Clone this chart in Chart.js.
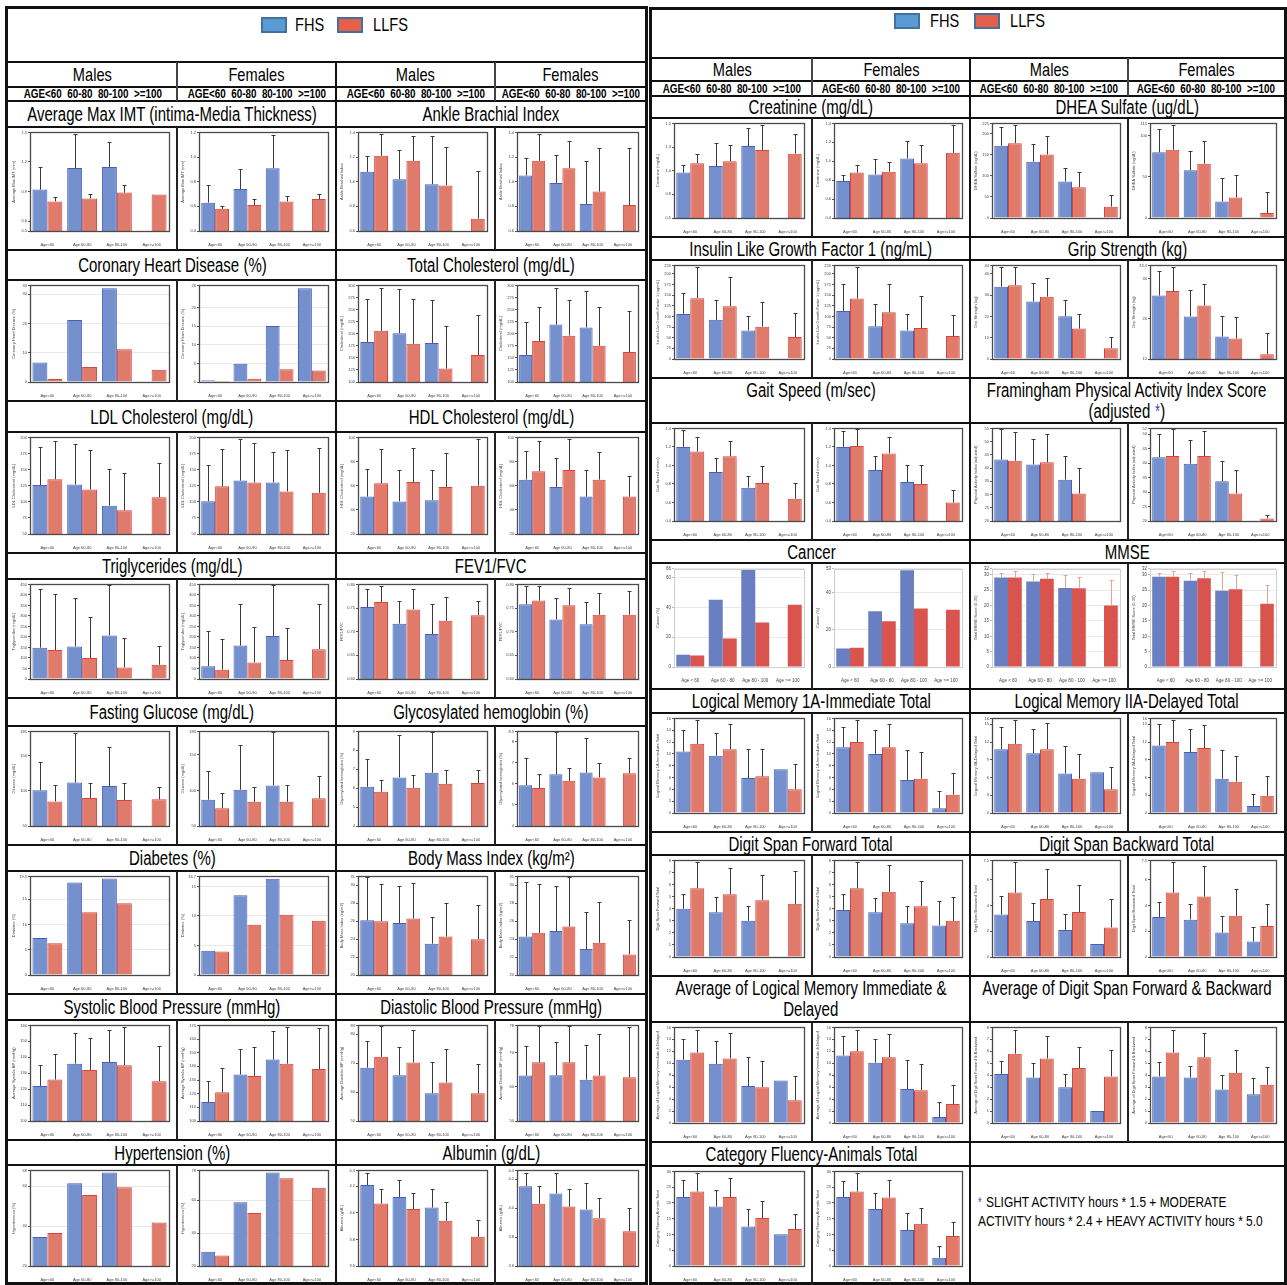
<!DOCTYPE html>
<html>
<head>
<meta charset="utf-8">
<script src="https://cdn.jsdelivr.net/npm/chart.js@4.4.1/dist/chart.umd.min.js"></script>
<style>
  html, body { margin: 0; padding: 0; background: #fff; }
  body { width: 1287px; height: 1285px; position: relative; overflow: hidden;
         font-family: "Liberation Sans", Arial, sans-serif; color: #000; }
  .t { position: absolute; white-space: nowrap; display: flex; justify-content: center; align-items: center; }
  .t span { display: inline-block; flex: none; transform: scaleX(0.77); transform-origin: center; }
  .t.left { justify-content: flex-start; }
  .t.left span { transform-origin: left center; }
  .star { color: #2f48c0; }
  canvas { position: absolute; }
</style>
</head>
<body>
<script>
// ---------- category labels ----------
const ageLabels = ['Age<60', 'Age 60-80', 'Age 80-100', 'Age>=100'];
const ageLabelsSpaced = ['Age < 60', 'Age 60 - 80', 'Age 80 - 100', 'Age >= 100'];
const headerSexes = ['Males', 'Females', 'Males', 'Females'];
const headerAges = 'AGE<60  60-80  80-100  >=100';
const seriesNames = ['FHS', 'LLFS'];

// ---------- values: mean per age group, and mean + SD (upper whisker) ----------
// Average Max IMT
const imtMFhs = [0.92, 1.14, 1.15, null], imtMFhsHi = [1.15, 1.48, 1.40, null];
const imtMLlfs = [0.80, 0.83, 0.89, 0.87], imtMLlfsHi = [0.84, 0.88, 0.97, null];
const imtFFhs = [0.63, 0.74, 0.91, null], imtFFhsHi = [0.77, 0.90, 1.18, null];
const imtFLlfs = [0.58, 0.61, 0.64, 0.66], imtFLlfsHi = [0.60, 0.66, 0.68, 0.70];
// Ankle Brachial Index
const abiMFhs = [1.08, 1.02, 0.98, null], abiMFhsHi = [1.21, 1.26, 1.37, null];
const abiMLlfs = [1.21, 1.17, 0.97, 0.70], abiMLlfsHi = [1.39, 1.37, 1.28, 1.09];
const abiFFhs = [1.05, 0.99, 0.82, null], abiFFhsHi = [1.19, 1.22, 1.17, null];
const abiFLlfs = [1.17, 1.11, 0.92, 0.81], abiFLlfsHi = [1.39, 1.33, 1.27, 1.27];
// Coronary Heart Disease (%)
const chdMFhs = [6.7, 21.2, 32.0, null], chdMLlfs = [1.0, 5.1, 11.2, 4.2];
const chdFFhs = [0.5, 4.9, 15.1, 25.2], chdFLlfs = [0.3, 0.9, 3.4, 3.1];
// Total Cholesterol
const tcMFhs = [183, 201, 181, null], tcMFhsHi = [271, 292, 269, null];
const tcMLlfs = [206, 179, 128, 156], tcMLlfsHi = [295, 272, 216, 239];
const tcFFhs = [156, 219, 213, null], tcFFhsHi = [224, 295, 289, null];
const tcFLlfs = [185, 196, 175, 162], tcFLlfsHi = [256, 269, 256, 247];
// LDL Cholesterol
const ldlMFhs = [126, 127, 94, null], ldlMFhsHi = [185, 189, 151, null];
const ldlMLlfs = [135, 119, 87, 107], ldlMLlfsHi = [195, 181, 145, 161];
const ldlFFhs = [101, 133, 130, null], ldlFFhsHi = [157, 198, 178, null];
const ldlFLlfs = [124, 130, 116, 114], ldlFLlfsHi = [182, 191, 181, 184];
// HDL Cholesterol
const hdlMFhs = [51, 47, 48, null], hdlMFhsHi = [74, 73, 73, null];
const hdlMLlfs = [62, 63, 59, 60], hdlMLlfsHi = [90, 91, 87, 99];
const hdlFFhs = [65, 59, 51, null], hdlFFhsHi = [89, 83, 73, null];
const hdlFLlfs = [72, 73, 65, 51], hdlFLlfsHi = [97, 99, 88, 68];
// Triglycerides
const tgMFhs = [149, 155, 207, null], tgMFhsHi = [428, 385, 446, null];
const tgMLlfs = [138, 100, 55, 68], tgMLlfsHi = [404, 295, 196, 155];
const tgFFhs = [61, 159, 205, null], tgFFhsHi = [230, 356, 446, null];
const tgFLlfs = [44, 79, 90, 142], tgFLlfsHi = [189, 248, 243, 356];
// FEV1/FVC
const fevMFhs = [0.752, 0.717, 0.695, null], fevMFhsHi = [0.791, 0.765, 0.758, null];
const fevMLlfs = [0.763, 0.747, 0.723, 0.735], fevMLlfsHi = [0.797, 0.790, 0.773, 0.765];
const fevFFhs = [0.758, 0.726, 0.716, null], fevFFhsHi = [0.797, 0.772, 0.763, null];
const fevFLlfs = [0.766, 0.756, 0.736, 0.736], fevFLlfsHi = [0.797, 0.792, 0.782, 0.785];
// Fasting Glucose
const gluMFhs = [101, 112, 107, null], gluMFhsHi = [141, 183, 163, null];
const gluMLlfs = [85, 90, 87, 88], gluMLlfsHi = [109, 112, 112, 106];
const gluFFhs = [87, 101, 107, null], gluFFhsHi = [128, 164, 182, null];
const gluFLlfs = [75, 84, 84, 89], gluFLlfsHi = [97, 105, 108, 120];
// Glycosylated hemoglobin
const hbaMFhs = [6.07, 6.57, 6.82, null], hbaMFhsHi = [7.53, 8.82, 8.95, null];
const hbaMLlfs = [5.81, 6.02, 6.23, 6.27], hbaMLlfsHi = [6.44, 6.69, 6.97, 6.97];
const hbaFFhs = [5.94, 6.46, 6.54, null], hbaFFhsHi = [7.22, 8.46, 8.19, null];
const hbaFLlfs = [5.81, 6.15, 6.31, 6.51], hbaFLlfsHi = [6.49, 6.75, 7.01, 7.22];
// Diabetes (%)
const diabMFhs = [7.3, 18.3, 19.1, null], diabMLlfs = [6.3, 12.4, 14.2, null];
const diabFFhs = [4.1, 13.5, 16.3, null], diabFLlfs = [4.0, 8.5, 10.2, 9.2];
// Body Mass Index
const bmiMFhs = [26.1, 25.8, 23.5, null], bmiMFhsHi = [30.9, 29.9, 26.5, null];
const bmiMLlfs = [26.0, 26.3, 24.3, 24.0], bmiMLlfsHi = [30.2, 30.3, 28.0, 27.8];
const bmiFFhs = [24.3, 24.9, 22.9, null], bmiFFhsHi = [30.4, 29.9, 27.0, null];
const bmiFLlfs = [24.7, 25.4, 23.6, 22.3], bmiFLlfsHi = [30.2, 30.9, 28.1, 26.1];
// Systolic Blood Pressure
const sbpMFhs = [122, 136, 137, null], sbpMFhsHi = [135, 155, 157, null];
const sbpMLlfs = [126, 132, 135, 125], sbpMLlfsHi = [142, 152, 159, 147];
const sbpFFhs = [114, 134, 145, null], sbpFFhsHi = [129, 153, 166, null];
const sbpFLlfs = [121, 133, 142, 138], sbpFLlfsHi = [139, 154, 169, 168];
// Diastolic Blood Pressure
const dbpMFhs = [68.4, 65.8, 59.6, null], dbpMFhsHi = [77.5, 75.5, 70.2, null];
const dbpMLlfs = [72.2, 70.2, 63.3, 59.6], dbpMLlfsHi = [82.7, 81.3, 75.0, 69.6];
const dbpFFhs = [63.3, 63.4, 62.1, null], dbpFFhsHi = [72.1, 73.0, 72.4, null];
const dbpFLlfs = [67.2, 67.2, 63.3, 62.8], dbpFLlfsHi = [77.7, 77.7, 75.4, 77.5];
// Hypertension (%)
const htnMFhs = [34.6, 61.5, 66.9, null], htnMLlfs = [36.6, 55.7, 59.6, 41.8];
const htnFFhs = [28.7, 58.7, 76.7, null], htnFLlfs = [26.4, 52.1, 73.2, 67.4];
// Albumin
const albMFhs = [4.21, 4.12, 4.04, null], albMFhsHi = [4.30, 4.25, 4.18, null];
const albMLlfs = [4.07, 4.03, 3.94, 3.82], albMLlfsHi = [4.18, 4.15, 4.08, 3.95];
const albFFhs = [4.15, 4.10, 3.99, null], albFFhsHi = [4.24, 4.24, 4.17, null];
const albFLlfs = [4.03, 4.01, 3.93, 3.84], albFLlfsHi = [4.15, 4.13, 4.07, 4.00];
// Creatinine
const creMFhs = [0.98, 1.05, 1.26, null], creMFhsHi = [1.06, 1.29, 1.45, null];
const creMLlfs = [1.08, 1.10, 1.22, 1.18], creMLlfsHi = [1.18, 1.27, 1.48, 1.39];
const creFFhs = [0.79, 0.86, 1.03, null], creFFhsHi = [0.85, 1.02, 1.21, null];
const creFLlfs = [0.88, 0.89, 0.98, 1.09], creFLlfsHi = [0.96, 0.99, 1.17, 1.38];
// DHEA Sulfate
const dheaMFhs = [172, 134, 87, null], dheaMFhsHi = [217, 176, 120, null];
const dheaMLlfs = [178, 151, 73, 27], dheaMLlfsHi = [221, 196, 109, 54];
const dheaFFhs = [80, 58, 20, null], dheaFFhsHi = [108, 82, 49, null];
const dheaFLlfs = [83, 66, 25, 6], dheaFLlfsHi = [113, 94, 52, 31];
// Insulin Like Growth Factor 1
const igfMFhs = [106, 92, 67, null], igfMFhsHi = [156, 139, 100, null];
const igfMLlfs = [143, 124, 76, 52], igfMLlfsHi = [216, 193, 133, 109];
const igfFFhs = [113, 77, 67, null], igfFFhsHi = [176, 130, 105, null];
const igfFLlfs = [142, 110, 73, 54], igfFLlfsHi = [216, 176, 147, 103];
// Grip Strength
const gripMFhs = [34.0, 27.0, 20.1, null], gripMFhsHi = [43.2, 35.8, 27.5, null];
const gripMLlfs = [34.7, 29.3, 14.3, 5.1], gripMLlfsHi = [43.2, 38.1, 21.2, 10.5];
const gripFFhs = [25.8, 20.6, 15.6, null], gripFFhsHi = [31.9, 27.3, 20.8, null];
const gripFLlfs = [26.9, 23.3, 15.1, 11.2], gripFLlfsHi = [32.9, 28.6, 20.5, 16.4];
// Gait Speed
const gaitMFhs = [1.20, 0.93, 0.76, null], gaitMFhsHi = [1.38, 1.08, 0.89, null];
const gaitMLlfs = [1.15, 1.10, 0.81, 0.64], gaitMLlfsHi = [1.31, 1.26, 0.99, 0.81];
const gaitFFhs = [1.20, 0.95, 0.82, null], gaitFFhsHi = [1.37, 1.10, 1.01, null];
const gaitFLlfs = [1.21, 1.13, 0.80, 0.60], gaitFLlfsHi = [1.39, 1.31, 1.00, 0.74];
// Framingham Physical Activity Index
const paiMFhs = [43.2, 41.4, 35.6, null], paiMFhsHi = [54.8, 50.9, 44.7, null];
const paiMLlfs = [42.8, 42.2, 30.4, null], paiMLlfsHi = [53.7, 53.0, 40.1, null];
const paiFFhs = [42.0, 39.8, 33.7, null], paiFFhsHi = [50.1, 47.9, 40.6, null];
const paiFLlfs = [42.5, 42.5, 29.5, 20.9], paiFLlfsHi = [51.8, 51.2, 37.5, 22.2];
// Cancer (%)
const cancerMFhs = [8.2, 45.2, 65.2, null], cancerMLlfs = [7.7, 19.1, 29.8, 41.8];
const cancerFFhs = [10.0, 30.0, 52.2, null], cancerFLlfs = [10.4, 24.7, 31.6, 30.9];
// MMSE
const mmseMFhs = [29.1, 27.8, 25.7, null], mmseMFhsHi = [30.6, 30.3, 30.0, null];
const mmseMLlfs = [29.1, 28.7, 25.6, 20.0], mmseMLlfsHi = [31.4, 30.7, 29.4, 28.3];
const mmseFFhs = [29.4, 28.1, 24.8, null], mmseFFhsHi = [30.6, 30.6, 30.9, null];
const mmseFLlfs = [29.4, 28.9, 25.3, 20.6], mmseFLlfsHi = [31.4, 31.2, 29.8, 26.7];
// Logical Memory 1A - Immediate
const lm1MFhs = [10.4, 9.7, 5.9, 7.4], lm1MFhsHi = [14.0, 13.6, 10.9, null];
const lm1MLlfs = [11.7, 10.8, 6.2, 4.0], lm1MLlfsHi = [15.8, 15.0, 10.8, 8.3];
const lm1FFhs = [11.1, 10.0, 5.6, 0.8], lm1FFhsHi = [14.6, 14.0, 10.7, 3.7];
const lm1FLlfs = [12.0, 11.1, 5.8, 3.1], lm1FLlfsHi = [15.8, 15.1, 10.4, 6.7];
// Logical Memory IIA - Delayed
const lm2MFhs = [10.8, 10.1, 6.7, 6.9], lm2MFhsHi = [14.5, 14.2, 11.4, null];
const lm2MLlfs = [11.7, 10.8, 5.8, 4.0], lm2MLlfsHi = [15.7, 15.3, 10.0, 7.7];
const lm2FFhs = [11.4, 10.3, 5.8, 1.2], lm2FFhsHi = [15.0, 14.2, 10.7, 3.2];
const lm2FLlfs = [12.0, 11.0, 5.3, 2.9], lm2FLlfsHi = [15.8, 14.8, 9.7, 6.2];
// Digit Span Forward
const dsfMFhs = [4.0, 3.7, 3.0, null], dsfMFhsHi = [5.2, 5.0, 4.2, null];
const dsfMLlfs = [5.7, 5.2, 4.7, 4.4], dsfMLlfsHi = [7.9, 7.4, 6.8, 7.1];
const dsfFFhs = [3.9, 3.7, 2.8, 2.6], dsfFFhsHi = [5.2, 4.9, 4.2, 4.6];
const dsfFLlfs = [5.7, 5.4, 4.2, 3.0], dsfFLlfsHi = [7.9, 7.6, 6.3, 5.0];
// Digit Span Backward
const dsbMFhs = [3.3, 2.8, 2.1, 1.0], dsbMFhsHi = [4.7, 4.2, 3.3, null];
const dsbMLlfs = [5.0, 4.5, 3.5, 2.3], dsbMLlfsHi = [7.4, 6.8, 5.6, 4.5];
const dsbFFhs = [3.1, 2.9, 1.9, 1.2], dsbFFhsHi = [4.3, 4.1, 3.2, 2.3];
const dsbFLlfs = [5.0, 4.7, 3.2, 2.4], dsbFLlfsHi = [7.4, 7.1, 5.3, 4.1];
// Average of Logical Memory Immediate & Delayed
const avgLmMFhs = [10.6, 9.9, 6.2, 7.1], avgLmMFhsHi = [14.0, 13.8, 11.0, null];
const avgLmMLlfs = [11.8, 10.8, 6.0, 3.8], avgLmMLlfsHi = [15.6, 15.1, 10.3, 7.8];
const avgLmFFhs = [11.3, 10.1, 5.7, 1.0], avgLmFFhsHi = [14.6, 14.1, 10.6, 3.5];
const avgLmFLlfs = [12.0, 11.0, 5.5, 3.2], avgLmFLlfsHi = [15.6, 14.9, 9.8, 6.4];
// Average of Digit Span Forward & Backward
const avgDsMFhs = [4.1, 3.8, 3.0, 1.0], avgDsMFhsHi = [5.2, 5.0, 4.1, null];
const avgDsMLlfs = [5.8, 5.4, 4.6, 3.9], avgDsMLlfsHi = [7.8, 7.3, 6.4, 6.1];
const avgDsFFhs = [3.9, 3.8, 2.8, 2.4], avgDsFFhsHi = [5.1, 4.8, 4.0, 3.8];
const avgDsFLlfs = [5.9, 5.5, 4.2, 3.2], avgDsFLlfsHi = [7.8, 7.5, 6.1, 4.7];
// Category Fluency - Animals
const cfMFhs = [21.9, 18.9, 12.5, 10.1], cfMFhsHi = [27.3, 24.2, 18.1, null];
const cfMLlfs = [23.6, 21.9, 15.2, 11.7], cfMLlfsHi = [29.5, 27.8, 20.7, 16.4];
const cfFFhs = [21.9, 18.1, 11.4, 2.6], cfFFhsHi = [26.9, 23.3, 16.9, 6.2];
const cfFLlfs = [23.6, 21.7, 13.4, 9.5], cfFLlfsHi = [29.5, 27.2, 18.4, 14.0];

// ---------- page grid (two panels) ----------
const PANELS = [
  { x0: 5, x1: 648, top: 6, cols: [8, 177, 336, 495, 646], legendBottom: 62, hdrBottom: 87, ageBottom: 101,
    legend: { y: 17, fhsBox: 261, fhsText: 295, llfsBox: 337, llfsText: 373 },
    blocks: [[101, 127, 250], [250, 280, 401], [401, 432, 553], [553, 579, 698],
             [698, 726, 845], [845, 871, 994], [994, 1020, 1140], [1140, 1165, 1285]] },
  { x0: 649, x1: 1287, top: 7, cols: [652, 812, 970, 1128, 1284], legendBottom: 58, hdrBottom: 81, ageBottom: 96,
    legend: { y: 13, fhsBox: 894, fhsText: 930, llfsBox: 974, llfsText: 1010 },
    blocks: [[96, 118, 237], [237, 260, 378], [378, 423, 540], [540, 563, 689],
             [689, 713, 832], [832, 855, 976], [976, 1022, 1142], [1142, 1166, 1285]] }
];

const TITLES = [
  [['Average Max IMT (intima-Media Thickness)'], ['Ankle Brachial Index']],
  [['Coronary Heart Disease (%)'], ['Total Cholesterol (mg/dL)']],
  [['LDL Cholesterol (mg/dL)'], ['HDL Cholesterol (mg/dL)']],
  [['Triglycerides (mg/dL)'], ['FEV1/FVC']],
  [['Fasting Glucose (mg/dL)'], ['Glycosylated hemoglobin (%)']],
  [['Diabetes (%)'], ['Body Mass Index (kg/m²)']],
  [['Systolic Blood Pressure (mmHg)'], ['Diastolic Blood Pressure (mmHg)']],
  [['Hypertension (%)'], ['Albumin (g/dL)']],
  [['Creatinine (mg/dL)'], ['DHEA Sulfate (ug/dL)']],
  [['Insulin Like Growth Factor 1 (ng/mL)'], ['Grip Strength (kg)']],
  [['Gait Speed (m/sec)'], ['Framingham Physical Activity Index Score', '(adjusted <span class="star">*</span>)']],
  [['Cancer'], ['MMSE']],
  [['Logical Memory 1A-Immediate Total'], ['Logical Memory IIA-Delayed Total']],
  [['Digit Span Forward Total'], ['Digit Span Backward Total']],
  [['Average of Logical Memory Immediate &amp;', 'Delayed'], ['Average of Digit Span Forward &amp; Backward']],
  [['Category Fluency-Animals Total'], []]
];

// Chart list: panel, block, column, y-axis title, series, axis range, look
const CHARTS = [
  { p: 0, b: 0, c: 0, yt: 'Average Max IMT (mm)', d: [imtMFhs, imtMFhsHi, imtMLlfs, imtMLlfsHi], min: 0.5, max: 1.5, step: 0.3 },
  { p: 0, b: 0, c: 1, yt: 'Average Max IMT (mm)', d: [imtFFhs, imtFFhsHi, imtFLlfs, imtFLlfsHi], min: 0.4, max: 1.2, step: 0.2 },
  { p: 0, b: 0, c: 2, yt: 'Ankle Brachial Index', d: [abiMFhs, abiMFhsHi, abiMLlfs, abiMLlfsHi], min: 0.6, max: 1.4, step: 0.2 },
  { p: 0, b: 0, c: 3, yt: 'Ankle Brachial Index', d: [abiFFhs, abiFFhsHi, abiFLlfs, abiFLlfsHi], min: 0.6, max: 1.4, step: 0.2 },
  { p: 0, b: 1, c: 0, yt: 'Coronary Heart Disease (%)', d: [chdMFhs, null, chdMLlfs, null], min: 0, max: 33, step: 10, look: 'grid' },
  { p: 0, b: 1, c: 1, yt: 'Coronary Heart Disease (%)', d: [chdFFhs, null, chdFLlfs, null], min: 0, max: 26, step: 5, look: 'grid' },
  { p: 0, b: 1, c: 2, yt: 'Cholesterol (mg/dL)', d: [tcMFhs, tcMFhsHi, tcMLlfs, tcMLlfsHi], min: 100, max: 300, step: 25 },
  { p: 0, b: 1, c: 3, yt: 'Cholesterol (mg/dL)', d: [tcFFhs, tcFFhsHi, tcFLlfs, tcFLlfsHi], min: 100, max: 300, step: 25 },
  { p: 0, b: 2, c: 0, yt: 'LDL Cholesterol (mg/dL)', d: [ldlMFhs, ldlMFhsHi, ldlMLlfs, ldlMLlfsHi], min: 50, max: 200, step: 25 },
  { p: 0, b: 2, c: 1, yt: 'LDL Cholesterol (mg/dL)', d: [ldlFFhs, ldlFFhsHi, ldlFLlfs, ldlFLlfsHi], min: 50, max: 200, step: 25 },
  { p: 0, b: 2, c: 2, yt: 'HDL Cholesterol (mg/dL)', d: [hdlMFhs, hdlMFhsHi, hdlMLlfs, hdlMLlfsHi], min: 20, max: 100, step: 20 },
  { p: 0, b: 2, c: 3, yt: 'HDL Cholesterol (mg/dL)', d: [hdlFFhs, hdlFFhsHi, hdlFLlfs, hdlFLlfsHi], min: 20, max: 100, step: 20 },
  { p: 0, b: 3, c: 0, yt: 'Triglycerides (mg/dL)', d: [tgMFhs, tgMFhsHi, tgMLlfs, tgMLlfsHi], min: 0, max: 450, step: 50 },
  { p: 0, b: 3, c: 1, yt: 'Triglycerides (mg/dL)', d: [tgFFhs, tgFFhsHi, tgFLlfs, tgFLlfsHi], min: 0, max: 450, step: 50 },
  { p: 0, b: 3, c: 2, yt: 'FEV1/FVC', d: [fevMFhs, fevMFhsHi, fevMLlfs, fevMLlfsHi], min: 0.6, max: 0.8, step: 0.05 },
  { p: 0, b: 3, c: 3, yt: 'FEV1/FVC', d: [fevFFhs, fevFFhsHi, fevFLlfs, fevFLlfsHi], min: 0.6, max: 0.8, step: 0.05 },
  { p: 0, b: 4, c: 0, yt: 'Glucose (mg/dL)', d: [gluMFhs, gluMFhsHi, gluMLlfs, gluMLlfsHi], min: 50, max: 185, step: 50 },
  { p: 0, b: 4, c: 1, yt: 'Glucose (mg/dL)', d: [gluFFhs, gluFFhsHi, gluFLlfs, gluFLlfsHi], min: 50, max: 183, step: 50 },
  { p: 0, b: 4, c: 2, yt: 'Glycosylated hemoglobin (%)', d: [hbaMFhs, hbaMFhsHi, hbaMLlfs, hbaMLlfsHi], min: 4, max: 9, step: 1 },
  { p: 0, b: 4, c: 3, yt: 'Glycosylated hemoglobin (%)', d: [hbaFFhs, hbaFFhsHi, hbaFLlfs, hbaFLlfsHi], min: 4, max: 8.5, step: 1 },
  { p: 0, b: 5, c: 0, yt: 'Diabetes (%)', d: [diabMFhs, null, diabMLlfs, null], min: 0, max: 19.5, step: 5, look: 'grid' },
  { p: 0, b: 5, c: 1, yt: 'Diabetes (%)', d: [diabFFhs, null, diabFLlfs, null], min: 0, max: 16.7, step: 5, look: 'grid' },
  { p: 0, b: 5, c: 2, yt: 'Body Mass Index (kg/m2)', d: [bmiMFhs, bmiMFhsHi, bmiMLlfs, bmiMLlfsHi], min: 20, max: 31, step: 2 },
  { p: 0, b: 5, c: 3, yt: 'Body Mass Index (kg/m2)', d: [bmiFFhs, bmiFFhsHi, bmiFLlfs, bmiFLlfsHi], min: 20, max: 31, step: 2 },
  { p: 0, b: 6, c: 0, yt: 'Average Systolic BP (mmHg)', d: [sbpMFhs, sbpMFhsHi, sbpMLlfs, sbpMLlfsHi], min: 100, max: 160, step: 10 },
  { p: 0, b: 6, c: 1, yt: 'Average Systolic BP (mmHg)', d: [sbpFFhs, sbpFFhsHi, sbpFLlfs, sbpFLlfsHi], min: 100, max: 170, step: 10 },
  { p: 0, b: 6, c: 2, yt: 'Average Diastolic BP (mmHg)', d: [dbpMFhs, dbpMFhsHi, dbpMLlfs, dbpMLlfsHi], min: 50, max: 83, step: 10 },
  { p: 0, b: 6, c: 3, yt: 'Average Diastolic BP (mmHg)', d: [dbpFFhs, dbpFFhsHi, dbpFLlfs, dbpFLlfsHi], min: 50, max: 78, step: 10 },
  { p: 0, b: 7, c: 0, yt: 'Hypertension (%)', d: [htnMFhs, null, htnMLlfs, null], min: 20, max: 68, step: 20, look: 'grid' },
  { p: 0, b: 7, c: 1, yt: 'Hypertension (%)', d: [htnFFhs, null, htnFLlfs, null], min: 20, max: 78, step: 20, look: 'grid' },
  { p: 0, b: 7, c: 2, yt: 'Albumin (g/dL)', d: [albMFhs, albMFhsHi, albMLlfs, albMLlfsHi], min: 3.6, max: 4.32, step: 0.2 },
  { p: 0, b: 7, c: 3, yt: 'Albumin (g/dL)', d: [albFFhs, albFFhsHi, albFLlfs, albFLlfsHi], min: 3.6, max: 4.26, step: 0.2 },

  { p: 1, b: 0, c: 0, yt: 'Creatinine (mg/dL)', d: [creMFhs, creMFhsHi, creMLlfs, creMLlfsHi], min: 0.5, max: 1.5, step: 0.25 },
  { p: 1, b: 0, c: 1, yt: 'Creatinine (mg/dL)', d: [creFFhs, creFFhsHi, creFLlfs, creFLlfsHi], min: 0.4, max: 1.4, step: 0.2 },
  { p: 1, b: 0, c: 2, yt: 'DHEA Sulfate (ug/dL)', d: [dheaMFhs, dheaMFhsHi, dheaMLlfs, dheaMLlfsHi], min: 0, max: 225, step: 50 },
  { p: 1, b: 0, c: 3, yt: 'DHEA Sulfate (ug/dL)', d: [dheaFFhs, dheaFFhsHi, dheaFLlfs, dheaFLlfsHi], min: 0, max: 115, step: 50 },
  { p: 1, b: 1, c: 0, yt: 'Insulin Like Growth Factor 1 (ng/mL)', d: [igfMFhs, igfMFhsHi, igfMLlfs, igfMLlfsHi], min: 0, max: 220, step: 25 },
  { p: 1, b: 1, c: 1, yt: 'Insulin Like Growth Factor 1 (ng/mL)', d: [igfFFhs, igfFFhsHi, igfFLlfs, igfFLlfsHi], min: 0, max: 220, step: 25 },
  { p: 1, b: 1, c: 2, yt: 'Grip Strength (kg)', d: [gripMFhs, gripMFhsHi, gripMLlfs, gripMLlfsHi], min: 0, max: 44, step: 10 },
  { p: 1, b: 1, c: 3, yt: 'Grip Strength (kg)', d: [gripFFhs, gripFFhsHi, gripFLlfs, gripFLlfsHi], min: 10, max: 33.3, step: 10 },
  { p: 1, b: 2, c: 0, yt: 'Gait Speed (m/sec)', d: [gaitMFhs, gaitMFhsHi, gaitMLlfs, gaitMLlfsHi], min: 0.4, max: 1.4, step: 0.2 },
  { p: 1, b: 2, c: 1, yt: 'Gait Speed (m/sec)', d: [gaitFFhs, gaitFFhsHi, gaitFLlfs, gaitFLlfsHi], min: 0.4, max: 1.4, step: 0.2 },
  { p: 1, b: 2, c: 2, yt: 'Physical Activity Index (adjusted)', d: [paiMFhs, paiMFhsHi, paiMLlfs, paiMLlfsHi], min: 20, max: 55, step: 5 },
  { p: 1, b: 2, c: 3, yt: 'Physical Activity Index (adjusted)', d: [paiFFhs, paiFFhsHi, paiFLlfs, paiFLlfsHi], min: 20, max: 52, step: 5 },
  { p: 1, b: 3, c: 0, yt: 'Cancer (%)', d: [cancerMFhs, null, cancerMLlfs, null], min: 0, max: 66, step: 20, look: 'sas' },
  { p: 1, b: 3, c: 1, yt: 'Cancer (%)', d: [cancerFFhs, null, cancerFLlfs, null], min: 0, max: 53, step: 20, look: 'sas' },
  { p: 1, b: 3, c: 2, yt: 'Total MMSE Score (0-30)', d: [mmseMFhs, mmseMFhsHi, mmseMLlfs, mmseMLlfsHi], min: 0, max: 32, step: 5, look: 'sas' },
  { p: 1, b: 3, c: 3, yt: 'Total MMSE Score (0-30)', d: [mmseFFhs, mmseFFhsHi, mmseFLlfs, mmseFLlfsHi], min: 0, max: 32, step: 5, look: 'sas' },
  { p: 1, b: 4, c: 0, yt: 'Logical Memory 1A-Immediate Total', d: [lm1MFhs, lm1MFhsHi, lm1MLlfs, lm1MLlfsHi], min: 0, max: 16, step: 2 },
  { p: 1, b: 4, c: 1, yt: 'Logical Memory 1A-Immediate Total', d: [lm1FFhs, lm1FFhsHi, lm1FLlfs, lm1FLlfsHi], min: 0, max: 16, step: 2 },
  { p: 1, b: 4, c: 2, yt: 'Logical Memory IIA-Delayed Total', d: [lm2MFhs, lm2MFhsHi, lm2MLlfs, lm2MLlfsHi], min: 0, max: 16, step: 3 },
  { p: 1, b: 4, c: 3, yt: 'Logical Memory IIA-Delayed Total', d: [lm2FFhs, lm2FFhsHi, lm2FLlfs, lm2FLlfsHi], min: 0, max: 16, step: 3 },
  { p: 1, b: 5, c: 0, yt: 'Digit Span Forward Total', d: [dsfMFhs, dsfMFhsHi, dsfMLlfs, dsfMLlfsHi], min: 0, max: 8, step: 1 },
  { p: 1, b: 5, c: 1, yt: 'Digit Span Forward Total', d: [dsfFFhs, dsfFFhsHi, dsfFLlfs, dsfFLlfsHi], min: 0, max: 8, step: 1 },
  { p: 1, b: 5, c: 2, yt: 'Digit Span Backward Total', d: [dsbMFhs, dsbMFhsHi, dsbMLlfs, dsbMLlfsHi], min: 0, max: 7.5, step: 2 },
  { p: 1, b: 5, c: 3, yt: 'Digit Span Backward Total', d: [dsbFFhs, dsbFFhsHi, dsbFLlfs, dsbFLlfsHi], min: 0, max: 7.5, step: 2 },
  { p: 1, b: 6, c: 0, yt: 'Average of Logical Memory Immediate & Delayed', d: [avgLmMFhs, avgLmMFhsHi, avgLmMLlfs, avgLmMLlfsHi], min: 0, max: 16, step: 2 },
  { p: 1, b: 6, c: 1, yt: 'Average of Logical Memory Immediate & Delayed', d: [avgLmFFhs, avgLmFFhsHi, avgLmFLlfs, avgLmFLlfsHi], min: 0, max: 16, step: 2 },
  { p: 1, b: 6, c: 2, yt: 'Average of Digit Span Forward & Backward', d: [avgDsMFhs, avgDsMFhsHi, avgDsMLlfs, avgDsMLlfsHi], min: 0, max: 8, step: 1 },
  { p: 1, b: 6, c: 3, yt: 'Average of Digit Span Forward & Backward', d: [avgDsFFhs, avgDsFFhsHi, avgDsFLlfs, avgDsFLlfsHi], min: 0, max: 8, step: 1 },
  { p: 1, b: 7, c: 0, yt: 'Category Fluency-Animals Total', d: [cfMFhs, cfMFhsHi, cfMLlfs, cfMLlfsHi], min: 0, max: 30, step: 5 },
  { p: 1, b: 7, c: 1, yt: 'Category Fluency-Animals Total', d: [cfFFhs, cfFFhsHi, cfFLlfs, cfFLlfsHi], min: 0, max: 30, step: 5 }
];

// ---------- drawing helpers ----------
function box(x, y, w, h, css) {
  const d = document.createElement('div');
  d.style.cssText = `position:absolute;left:${x}px;top:${y}px;width:${w}px;height:${h}px;${css || ''}`;
  document.body.appendChild(d);
  return d;
}
function hline(x0, x1, y, t, col) { box(x0, y - t / 2, x1 - x0, t, `background:${col || '#111'}`); }
function vline(x, y0, y1, t, col) { box(x - t / 2, y0, t, y1 - y0, `background:${col || '#111'}`); }
function label(html, x, y, w, h, size, extra, align) {
  const d = box(x, y, w, h, `font-size:${size}px;line-height:${h}px;${extra || ''}`);
  d.className = 't' + (align === 'left' ? ' left' : '');
  d.innerHTML = `<span>${html}</span>`;
  return d;
}

// ---------- table frame, legend, headers, titles ----------
PANELS.forEach((P, pi) => {
  const [c0, c1, c2, c3, c4] = P.cols;
  const bottom = 1284;
  // outer border
  box(P.x0, P.top, P.x1 - P.x0, 3, 'background:#111');
  box(P.x0, bottom - 2, P.x1 - P.x0, 3, 'background:#111');
  box(P.x0, P.top, 3, bottom - P.top, 'background:#111');
  box(P.x1 - 3, P.top, 3, bottom - P.top, 'background:#111');
  // header rows
  hline(c0, c4, P.legendBottom, 2);
  hline(c0, c4, P.hdrBottom, 1.5);
  hline(c0, c4, P.ageBottom, 2);
  [c1, c2, c3].forEach(x => vline(x, P.legendBottom, P.ageBottom, x === c2 ? 2 : 1.5, x === c2 ? '#111' : '#444'));
  // legend
  const L = P.legend;
  box(L.fhsBox, L.y, 26, 16, 'background:#5b9bd5;border:2px solid #41719c;box-sizing:border-box');
  box(L.llfsBox, L.y, 26, 16, 'background:#e65f4b;border:2px solid #41719c;box-sizing:border-box');
  label(seriesNames[0], L.fhsText, L.y - 3, 40, 22, 19, '', 'left');
  label(seriesNames[1], L.llfsText, L.y - 3, 48, 22, 19, '', 'left');
  // sex + age headers
  for (let k = 0; k < 4; k++) {
    const xa = P.cols[k], xb = P.cols[k + 1];
    label(headerSexes[k], xa, P.legendBottom + 1, xb - xa, P.hdrBottom - P.legendBottom - 2, 19);
    label(headerAges, xa, P.hdrBottom, xb - xa, P.ageBottom - P.hdrBottom, 12.8, 'font-weight:bold;white-space:pre');
  }
  // blocks
  P.blocks.forEach(([tTop, cTop, cBot], bi) => {
    const titles = TITLES[pi * 8 + bi];
    hline(c0, c4, cTop, 2);
    hline(c0, c4, cBot, 2);
    vline(c2, tTop, cBot, 2);
    vline(c1, cTop, cBot, 2, '#222');
    if (!(pi === 1 && bi === 7)) vline(c3, cTop, cBot, 2, '#222');
    const twoLine = (cTop - tTop) > 35;
    titles.forEach((lines, side) => {
      const xa = side === 0 ? c0 : c2, xb = side === 0 ? c2 : c4;
      lines.forEach((ln, li) => {
        const cy = twoLine ? tTop + 12 + li * 21 : (tTop + cTop) / 2;
        label(ln, xa, cy - 11, xb - xa, 22, 19.5);
      });
    });
  });
});

// footnote for the activity index
label('<span class="star">*</span> SLIGHT ACTIVITY hours * 1.5 + MODERATE', 978, 1192, 300, 20, 15.5, '', 'left');
label('ACTIVITY hours * 2.4 + HEAVY ACTIVITY hours * 5.0', 978, 1211, 300, 20, 15.5, '', 'left');

// ---------- Chart.js plugins ----------
const errorBarPlugin = {
  id: 'errorBars',
  afterDatasetsDraw(chart) {
    const ctx = chart.ctx, ys = chart.scales.y, a = chart.chartArea;
    ctx.save();
    ctx.beginPath(); ctx.rect(a.left, a.top - 1, a.right - a.left, a.bottom - a.top + 1); ctx.clip();
    chart.data.datasets.forEach((ds, di) => {
      if (!ds.upper) return;
      const meta = chart.getDatasetMeta(di);
      meta.data.forEach((bar, i) => {
        const hi = ds.upper[i];
        if (hi == null || ds.data[i] == null) return;
        const x = Math.round(bar.x) + 0.5;
        const yHi = Math.round(ys.getPixelForValue(hi)) + 0.5;
        ctx.strokeStyle = ds.errColor;
        ctx.lineWidth = 1;
        ctx.beginPath();
        ctx.moveTo(x, bar.y); ctx.lineTo(x, yHi);
        ctx.moveTo(x - 2, yHi); ctx.lineTo(x + 2, yHi);
        ctx.stroke();
      });
    });
    ctx.restore();
  }
};
const framePlugin = {
  id: 'plotFrame',
  afterDatasetsDraw(chart, args, opts) {
    const ctx = chart.ctx, a = chart.chartArea;
    ctx.save();
    ctx.strokeStyle = opts.color;
    ctx.lineWidth = opts.width;
    ctx.strokeRect(Math.round(a.left) + 0.5, Math.round(a.top) + 0.5,
                   Math.round(a.right - a.left), Math.round(a.bottom - a.top));
    ctx.restore();
  }
};

Chart.defaults.font.family = "'Liberation Sans', Arial, sans-serif";

// ---------- small multiples ----------
CHARTS.forEach(s => {
  const P = PANELS[s.p];
  const [, cTop, cBot] = P.blocks[s.b];
  const x0 = P.cols[s.c], x1 = P.cols[s.c + 1];
  const w = x1 - x0 - 4, h = cBot - cTop - 3;
  const cv = document.createElement('canvas');
  cv.width = w; cv.height = h;
  cv.style.left = (x0 + 2) + 'px'; cv.style.top = (cTop + 2) + 'px';
  cv.style.width = w + 'px'; cv.style.height = h + 'px';
  document.body.appendChild(cv);

  const sas = s.look === 'sas';
  const blueFill = sas ? '#6a7fc2' : '#7490cd';
  const blueLine = sas ? '#6a7fc2' : '#4a5fbb';
  const redFill = sas ? '#d9534f' : '#e07a6b';
  const redLine = sas ? '#d9534f' : '#d8433a';
  const errCol = sas ? '#eca48a' : '#3a3a3a';

  new Chart(cv, {
    type: 'bar',
    data: {
      labels: sas ? ageLabelsSpaced : ageLabels,
      datasets: [
        { label: seriesNames[0], data: s.d[0], upper: s.d[1], backgroundColor: blueFill, borderColor: blueLine,
          borderWidth: sas ? 0 : 1, errColor: errCol },
        { label: seriesNames[1], data: s.d[2], upper: s.d[3], backgroundColor: redFill, borderColor: redLine,
          borderWidth: sas ? 0 : 1, errColor: errCol }
      ]
    },
    options: {
      responsive: false, animation: false, devicePixelRatio: 1,
      layout: { padding: { left: 1, right: 6, top: 2, bottom: 1 } },
      datasets: { bar: { categoryPercentage: 0.86, barPercentage: 1 } },
      plugins: {
        legend: { display: false }, tooltip: { enabled: false },
        plotFrame: { color: sas ? '#cfcfcf' : '#4a4a4a', width: sas ? 1 : 1.3 }
      },
      scales: {
        x: {
          grid: { display: false }, border: { display: false },
          ticks: { font: { size: sas ? 4.5 : 4 }, color: '#444', maxRotation: 0, minRotation: 0, autoSkip: false, padding: 3 },
          afterFit(sc) { sc.height = sas ? 20 : 17; }
        },
        y: {
          min: s.min, max: s.max,
          ticks: { stepSize: s.step, font: { size: sas ? 4.5 : 4 }, color: '#444', padding: 1 },
          grid: { display: true, drawOnChartArea: !!s.look, color: '#e8e8e8', tickColor: sas ? '#bbb' : '#555', tickLength: 2 },
          border: { display: false },
          title: { display: true, text: s.yt, font: { size: 4 }, color: '#444', padding: { top: 0, bottom: 1 } },
          afterFit(sc) { sc.width = 19; }
        }
      }
    },
    plugins: [errorBarPlugin, framePlugin]
  });
});
</script>
</body>
</html>
